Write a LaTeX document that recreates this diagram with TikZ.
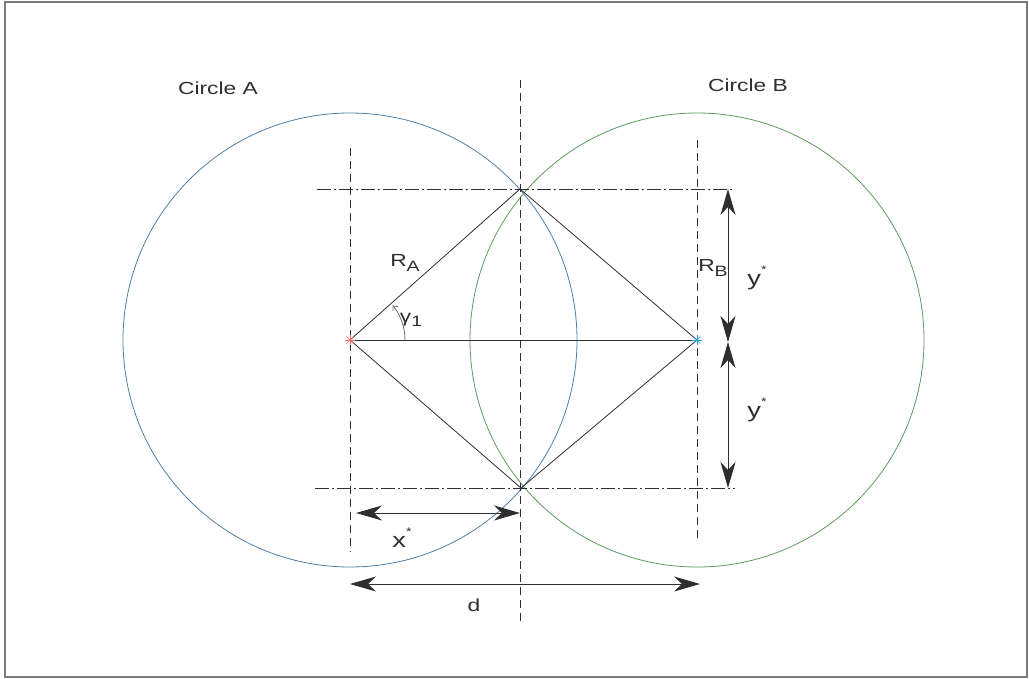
\documentclass[tikz,border=0pt]{standalone}
\usepackage{fontspec}
\setmainfont[FakeStretch=1.3]{Liberation Sans}
\usetikzlibrary{arrows.meta}
\definecolor{CircA}{HTML}{4F7FA6}
\definecolor{CircB}{HTML}{5E9A5E}
\definecolor{Ink}{HTML}{2E2E2E}
\definecolor{Mute}{HTML}{6E6E6E}
\definecolor{Frame}{HTML}{7A7A7A}

\begin{document}
\begin{tikzpicture}[x=1pt,y=-1pt,
    lbl/.style={font=\fontsize{17.5}{21}\selectfont,text=Ink,inner sep=0pt},
    biglbl/.style={font=\fontsize{21}{25}\selectfont,text=Ink,inner sep=0pt},
    guide/.style={Ink,line width=0.8pt,dash pattern=on 8pt off 5pt},
    axisline/.style={Ink,line width=0.8pt,dash pattern=on 14pt off 3pt on 2pt off 3pt},
    dimarrow/.style={Ink,line width=0.9pt,
      {Stealth[length=26pt,width=15pt,inset=8pt]}-{Stealth[length=26pt,width=15pt,inset=8pt]}}]
  \useasboundingbox (0,0) rectangle (1029,678);
  \draw[Frame,line width=1.4pt] (5,2) rectangle (1027,677);
  % centres and intersection points
  \coordinate (A) at (350,340);
  \coordinate (B) at (697,340);
  \coordinate (P) at (520,189);
  \coordinate (Q) at (521,488);
  % circles
  \draw[CircA,line width=0.8pt] (A) circle[radius=227];
  \draw[CircB,line width=0.8pt] (B) circle[radius=227];
  % guide lines
  \foreach \x/\ya/\yb in {350/148/552, 520/80/625, 697/140/543}
    \draw[guide] (\x,\ya) -- (\x,\yb);
  \draw[axisline] (317,189) -- (733,189);
  \draw[axisline] (315,488) -- (735,488);
  % radii
  \draw[Ink,line width=0.8pt] (A) -- (P) -- (B) -- (Q) -- cycle;
  \draw[Ink,line width=0.8pt] (A) -- (B);
  \foreach \a in {0,45,90,135} {
    \draw[red!60] (A) ++(\a:5) -- ++(\a+180:10);
    \draw[cyan!70!teal] (B) ++(\a:5) -- ++(\a+180:10);
  }
  % angle gamma
  \draw[Mute,line width=0.8pt,-{Straight Barb[length=4pt,width=7pt]}] (A) ++(0:55) arc[start angle=0,end angle=-39,radius=55];
  % dimensions
  \coordinate (yt) at (728,189);
  \coordinate (ym) at (728,342);
  \coordinate (yb) at (728,488);
  \coordinate (xl) at (356,513);
  \coordinate (xr) at (520,513);
  \coordinate (dl) at (350,584);
  \coordinate (dr) at (700,584);
  \draw[dimarrow] (yt) -- (ym);
  \draw[dimarrow] (ym) -- (yb);
  \draw[dimarrow] (xl) -- (xr);
  \draw[dimarrow] (dl) -- (dr);
  % labels
  \node[lbl] (circA) at (218,88) {Circle A};
  \node[lbl] (circB) at (748,85) {Circle B};
  \node[lbl] (rA) at (405,263) {R\raisebox{-0.5ex}{\fontsize{15}{17}\selectfont A}};
  \node[lbl] (rB) at (713,268) {R\raisebox{-0.5ex}{\fontsize{15}{17}\selectfont B}};
  \node[lbl] (gam) at (411,320) {γ\raisebox{-0.5ex}{\fontsize{15}{17}\selectfont 1}};
  \node[biglbl] (ytop) at (757,278) {y\raisebox{1.1ex}{\fontsize{11}{13}\selectfont *}};
  \node[biglbl] (ybot) at (757,410) {y\raisebox{1.1ex}{\fontsize{11}{13}\selectfont *}};
  \node[biglbl] (xs) at (402,538) {x\raisebox{1.1ex}{\fontsize{11}{13}\selectfont *}};
  \node[lbl] (dist) at (474,605) {d};
\end{tikzpicture}
\end{document}
